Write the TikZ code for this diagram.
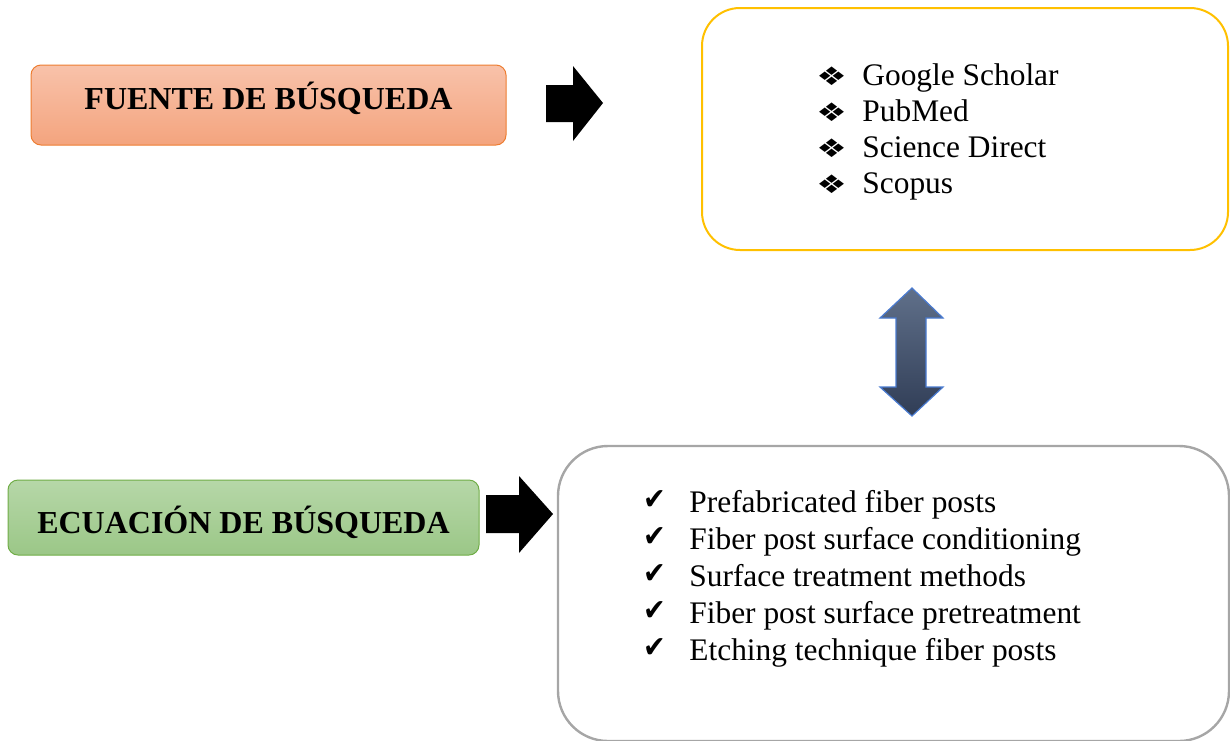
\documentclass[tikz,border=0pt]{standalone}
\usepackage{fontspec}
\setmainfont{Liberation Serif}
\newfontfamily\symfont{DejaVu Sans}
\definecolor{orangetop}{HTML}{F8C2AA}
\definecolor{orangebot}{HTML}{F4A47E}
\definecolor{orangeline}{HTML}{ED7D31}
\definecolor{greentop}{HTML}{B6D7A8}
\definecolor{greenbot}{HTML}{9BC787}
\definecolor{greenline}{HTML}{70AD47}
\definecolor{goldline}{HTML}{FFC000}
\definecolor{grayline}{HTML}{A6A6A6}
\definecolor{slatetop}{HTML}{60708A}
\definecolor{slatebot}{HTML}{303D56}
\definecolor{blueline}{HTML}{4A7BD0}
\tikzset{
  headbox/.style={rounded corners=5pt, line width=0.5pt, inner sep=0pt,
    font=\fontsize{16}{19}\selectfont\bfseries},
  item/.style={anchor=base west, inner sep=0pt, font=\fontsize{15.7}{18}\selectfont},
  bulletsym/.style={anchor=base west, inner sep=0pt, font=\symfont\fontsize{17}{18}\selectfont},
  checksym/.style={anchor=base west, inner sep=0pt, font=\symfont\fontsize{15}{16}\selectfont},
  blockarrow/.style={fill=black},
}
\begin{document}
\begin{tikzpicture}[x=0.5pt,y=-0.5pt]
\useasboundingbox (0,0) rectangle (1230,740);
\clip (0,0) rectangle (1230,740);

% heading boxes
\node[headbox, draw=orangeline, top color=orangetop, bottom color=orangebot,
  minimum width=237.5pt, minimum height=40pt, text height=4pt, text depth=0pt]
  (fuente) at (268.5,105) {FUENTE DE BÚSQUEDA};
\node[headbox, draw=greenline, top color=greentop, bottom color=greenbot,
  minimum width=235.5pt, minimum height=37.5pt, text height=15.5pt, text depth=0pt]
  (ecuacion) at (243.5,517.5) {ECUACIÓN DE BÚSQUEDA};

% list boxes
\node[draw=goldline, line width=1pt, rounded corners=19pt,
  minimum width=263pt, minimum height=121pt] (fuentes) at (965,129) {};
\node[draw=grayline, line width=1.2pt, rounded corners=25pt,
  minimum width=335.5pt, minimum height=147.5pt] (terminos) at (893.5,593.5) {};

% list of sources
\foreach \t/\y/\n in {Google Scholar/85/g1, PubMed/121/g2, Science Direct/157/g3, Scopus/193/g4}{
  \node[bulletsym] (b\n) at (816,\y) {\scalebox{1}[0.75]{❖}};
  \node[item] (\n) at (862,\y) {\t};
}
% list of search terms
\foreach \t/\y/\n in {Prefabricated fiber posts/512/e1, Fiber post surface conditioning/549/e2,
  Surface treatment methods/586/e3, Fiber post surface pretreatment/623/e4,
  Etching technique fiber posts/660/e5}{
  \node[checksym] (c\n) at (643,\y-3) {\scalebox{0.9}[1]{✔}};
  \node[item] (\n) at (689,\y) {\t};
}

% block arrows
\path[blockarrow] (546,85) -- (573,85) -- (573,66) -- (603,103) -- (573,141) -- (573,122) -- (546,122) -- cycle;
\path[blockarrow] (486,495) -- (519,495) -- (519,476) -- (553,514) -- (519,553) -- (519,533) -- (486,533) -- cycle;
\path[draw=blueline, line width=0.6pt, top color=slatetop, bottom color=slatebot]
  (912,288) -- (943,318) -- (926,318) -- (926,387) -- (943,387) -- (912,416) -- (880,387)
  -- (896,387) -- (896,318) -- (880,318) -- cycle;
\end{tikzpicture}
\end{document}
